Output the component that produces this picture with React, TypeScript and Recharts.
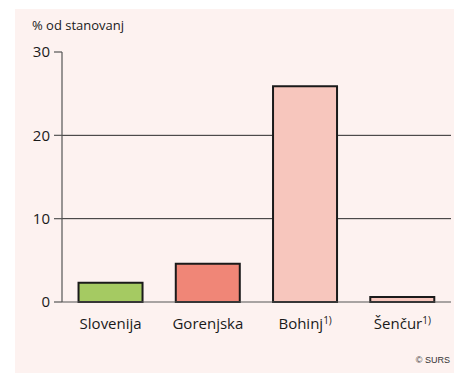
import { BarChart, Bar, Cell, XAxis, YAxis, CartesianGrid } from "recharts"

const categories = ["Slovenija", "Gorenjska", "Bohinj", "Šenčur"]
const notes = ["", "", "1)", "1)"]
const values = [2.3, 4.6, 25.9, 0.6]
const barColors = ["#a5ca62", "#f08677", "#f7c6bd", "#f7c6bd"]
const yTicks = [0, 10, 20, 30]
const gridValues = [10, 20]

const font = "'Open Sans', 'DejaVu Sans', sans-serif"

const data = categories.map((name, i) => ({ name, note: notes[i], value: values[i] }))

function CategoryTick(props: any) {
  const { x, y, payload, index } = props
  const note = notes[index] || ""
  return (
    <text x={x} y={y} textAnchor="middle" fontFamily={font} fontSize={15} fill="#1a1a1a">
      <tspan dy="0.71em">{payload.value}</tspan>
      {note && (
        <tspan dy="-0.5em" fontSize={10}>
          {note}
        </tspan>
      )}
    </text>
  )
}

export default function App() {
  return (
    <div style={{ position: "absolute", left: 0, top: 0, width: 454, height: 374, background: "#fff" }}>
      <div style={{ position: "absolute", left: 15, top: 9, width: 439, height: 364, background: "#fdf2f0" }} />
      <div
        style={{
          position: "absolute",
          left: 32,
          top: 16,
          fontFamily: font,
          fontSize: 13,
          color: "#1a1a1a",
        }}
      >
        % od stanovanj
      </div>
      <div
        style={{
          position: "absolute",
          right: 4,
          top: 355,
          fontFamily: "Arial, 'Liberation Sans', sans-serif",
          fontSize: 9,
          color: "#333",
        }}
      >
        © SURS
      </div>
      <div style={{ position: "absolute", left: 0, top: 0 }}>
        <BarChart
          width={454}
          height={374}
          data={data}
          margin={{ top: 52, right: 3, bottom: 42, left: 0 }}
          barCategoryGap="17%"
        >
          <CartesianGrid vertical={false} horizontalValues={gridValues} stroke="#2a2a2a" strokeWidth={1} />
          <XAxis
            dataKey="name"
            tick={<CategoryTick />}
            tickLine={false}
            tickSize={0}
            tickMargin={16}
            axisLine={{ stroke: "#555", strokeWidth: 1.2 }}
            interval={0}
          />
          <YAxis
            width={62}
            domain={[0, 30]}
            ticks={yTicks}
            interval={0}
            tickSize={8}
            tickMargin={4}
            tickLine={{ stroke: "#555", strokeWidth: 1.2 }}
            axisLine={{ stroke: "#555", strokeWidth: 1.2 }}
            tick={{ fontFamily: font, fontSize: 15, fill: "#1a1a1a" }}
          />
          <Bar dataKey="value" stroke="#1a1a1a" strokeWidth={2} isAnimationActive={false}>
            {data.map((d, i) => (
              <Cell key={d.name} fill={barColors[i]} />
            ))}
          </Bar>
        </BarChart>
      </div>
    </div>
  )
}
